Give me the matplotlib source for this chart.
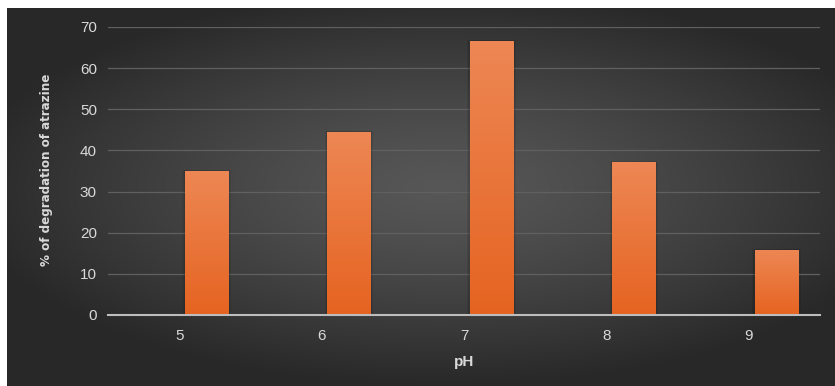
import numpy as np
import matplotlib
matplotlib.use('Agg')
import matplotlib.pyplot as plt
from matplotlib.patches import Rectangle

# Degradation of atrazine at each pH
ph_labels = ['5', '6', '7', '8', '9']
degradation = [35.1, 44.5, 66.6, 37.1, 15.9]
y_ticks = [0, 10, 20, 30, 40, 50, 60, 70]

W, H = 835, 386
fig = plt.figure(figsize=(W / 100, H / 100), dpi=100, facecolor='white')

# Dark backdrop with a soft radial glow
bg = fig.add_axes([7 / W, 0, 1 - 7 / W, 1 - 8 / H], zorder=0)
gx, gy = np.meshgrid(np.linspace(-1, 1, 400), np.linspace(-1, 1, 200))
r = np.sqrt(((gx - 0.05) / 1.1) ** 2 + ((gy + 0.05) / 1.0) ** 2)
shade = np.clip(0.34 - 0.17 * r ** 1.3, 0.16, 0.34)
bg.imshow(np.dstack([shade] * 3), extent=[0, 1, 0, 1], aspect='auto',
          interpolation='bicubic')
bg.set_axis_off()

ax = fig.add_axes([108 / W, (H - 315) / H, (820 - 108) / W, 288 / H], zorder=1)
ax.patch.set_alpha(0)

x = np.arange(len(ph_labels))
offset, width = 0.193, 0.305

# Orange bars with a vertical gradient
top_col = np.array([0.93, 0.53, 0.33])
bot_col = np.array([0.90, 0.39, 0.13])
grad = np.linspace(0, 1, 100)[:, None]
grad_img = (bot_col * (1 - grad) + top_col * grad)[:, None, :]
grad_img = np.repeat(grad_img, 2, axis=1)

bars = ax.bar(x + offset, degradation, width, color='none', zorder=3)
for b in bars:
    x0, w, h = b.get_x(), b.get_width(), b.get_height()
    # faint shadow around each bar
    for pad, a in [(0.018, 0.07), (0.01, 0.09)]:
        ax.add_patch(Rectangle((x0 - pad, 0), w + 2 * pad, h + pad * 12,
                               color='black', alpha=a, lw=0, zorder=2))
    im = ax.imshow(grad_img, extent=[x0, x0 + w, 0, h], origin='lower',
                   aspect='auto', zorder=3)
    im.set_clip_path(b)

ax.set_xlim(-0.5, len(ph_labels) - 0.5)
ax.set_ylim(0, 70)
ax.set_xticks(x)
ax.set_xticklabels(ph_labels)
ax.set_yticks(y_ticks)
ax.yaxis.grid(True, color='#606060', lw=0.9, zorder=1)
ax.set_axisbelow(True)
for s in ['top', 'right', 'left']:
    ax.spines[s].set_visible(False)
ax.spines['bottom'].set_color('#bdbdbd')
ax.spines['bottom'].set_linewidth(1.5)
ax.spines['bottom'].set_zorder(4)
ax.tick_params(length=0, colors='#d9d9d9', labelsize=11)
ax.tick_params(axis='y', pad=8)
ax.tick_params(axis='x', pad=10)
for lbl in ax.get_xticklabels() + ax.get_yticklabels():
    lbl.set_family(['Liberation Sans', 'DejaVu Sans'])

ax.set_xlabel('pH', color='#d9d9d9', fontsize=11, fontweight='bold',
              family=['Liberation Sans', 'DejaVu Sans'], labelpad=9)
fig.text(47 / W, 1 - 170 / H, '% of degradation of atrazine', rotation=90,
         color='#d9d9d9', fontsize=9.5, fontweight='bold',
         fontstretch='condensed', family=['DejaVu Sans'],
         ha='center', va='center')

fig.savefig('out.png', dpi=100, facecolor='white')
